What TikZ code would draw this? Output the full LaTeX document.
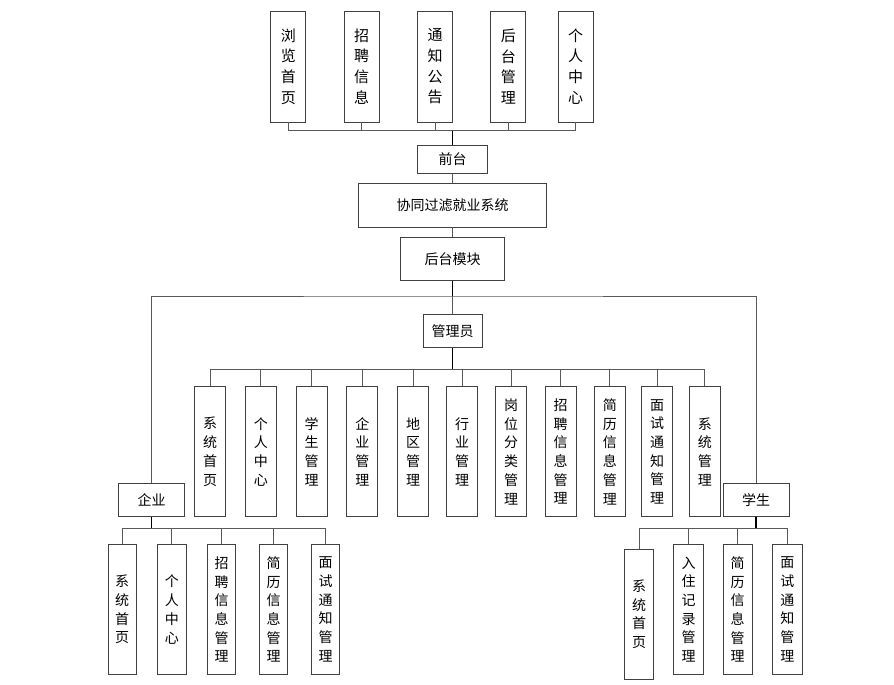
\documentclass[tikz,border=0pt]{standalone}
\usepackage{fontspec}
\newfontfamily\cjk{Noto Sans CJK SC}
\begin{document}
\begin{tikzpicture}[x=1pt,y=-1pt,
  box/.style={draw=black!75, line width=0.8pt, fill=white, inner sep=0pt, align=center},
  topv/.style={box, minimum width=35pt, minimum height=111pt, font=\cjk\fontsize{15}{20.7}\selectfont},
  adm/.style={box, minimum width=31pt, minimum height=130pt, font=\cjk\fontsize{14}{18.7}\selectfont},
  low/.style={box, minimum width=28.5pt, minimum height=130.4pt, font=\cjk\fontsize{14}{18.7}\selectfont},
  hbox/.style={box, font=\cjk\fontsize{14}{16}\selectfont},
  ln/.style={draw=black!65, line width=0.8pt},
  trunk/.style={draw=black, line width=1.1pt}]
\useasboundingbox (0,0) rectangle (894,685);
% top row
\node[topv] (t1) at (288.3,66.5) {浏\\览\\首\\页};
\node[topv] (t2) at (361.7,66.5) {招\\聘\\信\\息};
\node[topv] (t3) at (435,66.5) {通\\知\\公\\告};
\node[topv] (t4) at (508.3,66.5) {后\\台\\管\\理};
\node[topv] (t5) at (575.7,66.5) {个\\人\\中\\心};
\node[hbox, minimum width=70pt, minimum height=27.6pt] (qt) at (452.7,159.5) {前台};
\node[hbox, minimum width=188pt, minimum height=43.7pt] (sys) at (452.7,205.2) {协同过滤就业系统};
\node[hbox, minimum width=104.3pt, minimum height=43.3pt] (ht) at (452.7,258.7) {后台模块};
\node[hbox, minimum width=59.4pt, minimum height=33.4pt] (gly) at (452.7,331) {管理员};
\node[hbox, minimum width=66pt, minimum height=33pt] (qy) at (151.7,499.8) {企业};
\node[hbox, minimum width=66pt, minimum height=33pt] (xs) at (756,499.8) {学生};
% admin children
\node[adm] (a1) at (210,451.7) {系\\统\\首\\页};
\node[adm] (a2) at (260.8,451.7) {个\\人\\中\\心};
\node[adm] (a3) at (311.5,451.7) {学\\生\\管\\理};
\node[adm] (a4) at (362.3,451.7) {企\\业\\管\\理};
\node[adm] (a5) at (413.2,451.7) {地\\区\\管\\理};
\node[adm] (a6) at (462.2,451.7) {行\\业\\管\\理};
\node[adm] (a7) at (511.2,451.7) {岗\\位\\分\\类\\管\\理};
\node[adm] (a8) at (560.5,451.7) {招\\聘\\信\\息\\管\\理};
\node[adm] (a9) at (609.8,451.7) {简\\历\\信\\息\\管\\理};
\node[adm] (a10) at (657.2,451.7) {面\\试\\通\\知\\管\\理};
\node[adm] (a11) at (704.8,451.7) {系\\统\\管\\理};
% enterprise children
\node[low] (e1) at (122.2,609.5) {系\\统\\首\\页};
\node[low] (e2) at (171.8,609.5) {个\\人\\中\\心};
\node[low] (e3) at (221.5,609.5) {招\\聘\\信\\息\\管\\理};
\node[low] (e4) at (273.5,609.5) {简\\历\\信\\息\\管\\理};
\node[low] (e5) at (325.5,609.5) {面\\试\\通\\知\\管\\理};
% student children
\node[low, minimum width=29.4pt] (s1) at (639,614.2) {系\\统\\首\\页};
\node[low, minimum width=29.6pt] (s2) at (688.5,609.5) {入\\住\\记\\录\\管\\理};
\node[low, minimum width=29.3pt] (s3) at (737.7,609.5) {简\\历\\信\\息\\管\\理};
\node[low, minimum width=29.3pt] (s4) at (787.3,609.5) {面\\试\\通\\知\\管\\理};
% bus coordinates
\coordinate (busT) at (qt.north |- 0,130.7);
\coordinate (busH) at (ht.south |- 0,296);
\coordinate (busA) at (gly.south |- 0,369.3);
\coordinate (busE) at (qy.south |- 0,528.3);
\coordinate (busS) at (xs.south |- 0,528.3);
% connectors
\foreach \n in {t1,t2,t3,t4,t5} \draw[ln] (\n.south) |- (busT);
\draw[trunk] (busT) -- (qt.north);
\draw[ln] (qt.south) -- (sys.north);
\draw[ln] (sys.south) -- (ht.north);
\draw[trunk] (ht.south) -- (busH);
\draw[ln] (busH) -- (gly.north);
\draw[ln] (qy.north) |- (busH) -| (xs.north);
\draw[trunk] (gly.south) -- (busA);
\foreach \n in {a1,a2,a3,a4,a5,a6,a7,a8,a9,a10,a11} \draw[ln] (\n.north) |- (busA);
\draw[trunk] (qy.south) -- (busE);
\foreach \n in {e1,e2,e3,e4,e5} \draw[ln] (\n.north) |- (busE);
\draw[trunk] (xs.south) -- (busS);
\foreach \n in {s1,s2,s3,s4} \draw[ln] (\n.north) |- (busS);
\end{tikzpicture}
\end{document}
